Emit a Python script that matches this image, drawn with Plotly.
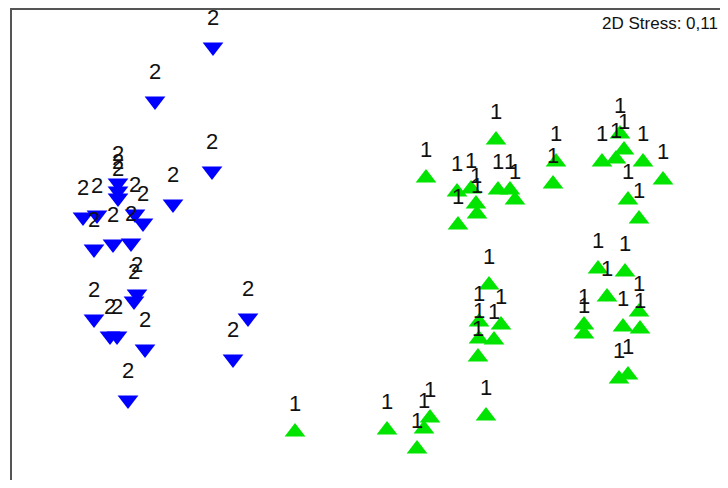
# coding: utf-8
# NMDS ordination plot: group 1 (green, up) vs group 2 (blue, down)

import plotly.graph_objects as go

# Ordination positions (plot units = picture pixels)
GROUP2_X = [213, 155, 212, 173, 83, 97, 118, 118, 118, 135, 143, 94, 113, 131,
            137, 134, 94, 110, 117, 145, 128, 248, 233]
GROUP2_Y = [47, 101, 171, 204, 217, 215, 183, 191, 198, 214, 223, 249, 244, 243,
            294, 301, 319, 336, 336, 349, 400, 318, 359]

GROUP1_X = [496, 426, 457, 471, 476, 477, 458, 498, 510, 515, 556, 553,
            620, 624, 602, 616, 643, 663, 628, 639,
            489, 479, 479, 478, 501, 494,
            598, 625, 607, 639, 640, 623, 584, 584, 619, 628,
            295, 387, 430, 424, 417, 486]
GROUP1_Y = [140, 178, 192, 189, 204, 214, 225, 190, 190, 200, 162, 184,
            134, 150, 162, 159, 162, 180, 200, 219,
            285, 322, 339, 357, 325, 340,
            269, 272, 297, 312, 329, 327, 325, 334, 379, 375,
            432, 430, 418, 429, 449, 416]

GROUP1_LABEL = '1'
GROUP2_LABEL = '2'
STRESS_TEXT = '2D Stress: 0,11'

FONT = 'Liberation Sans, Arial, sans-serif'
BLUE = '#0000ff'
GREEN = '#00e400'

fig = go.Figure()

fig.add_trace(go.Scatter(
    x=GROUP2_X, y=GROUP2_Y, mode='markers', name=GROUP2_LABEL,
    marker=dict(symbol='triangle-down', size=18, color=BLUE),
))
fig.add_trace(go.Scatter(
    x=GROUP1_X, y=GROUP1_Y, mode='markers', name=GROUP1_LABEL,
    marker=dict(symbol='triangle-up', size=18, color=GREEN),
))

# sample labels above each symbol
for xs, ys, lab, shift in [(GROUP2_X, GROUP2_Y, GROUP2_LABEL, 30),
                           (GROUP1_X, GROUP1_Y, GROUP1_LABEL, 29)]:
    for x, y in zip(xs, ys):
        fig.add_annotation(x=x, y=y, text=lab, showarrow=False, yshift=shift,
                           font=dict(family=FONT, size=22, color='#111111'))

fig.add_annotation(x=1, y=23, xref='paper', xanchor='right', yanchor='middle',
                   text=STRESS_TEXT, showarrow=False,
                   font=dict(family=FONT, size=17, color='#111111'))

# page body has an 8px margin all round: keep the figure inside the window
fig.update_layout(
    width=712, height=472,
    margin=dict(l=4, r=0, t=2, b=0),
    paper_bgcolor='white', plot_bgcolor='white',
    showlegend=False,
    xaxis=dict(range=[12, 720], side='top', showline=True, linewidth=2, linecolor='#555555',
               showgrid=False, zeroline=False, showticklabels=False, ticks=''),
    yaxis=dict(range=[480, 10], showline=True, linewidth=2, linecolor='#555555',
               showgrid=False, zeroline=False, showticklabels=False, ticks=''),
)

fig.write_html('out.html')
